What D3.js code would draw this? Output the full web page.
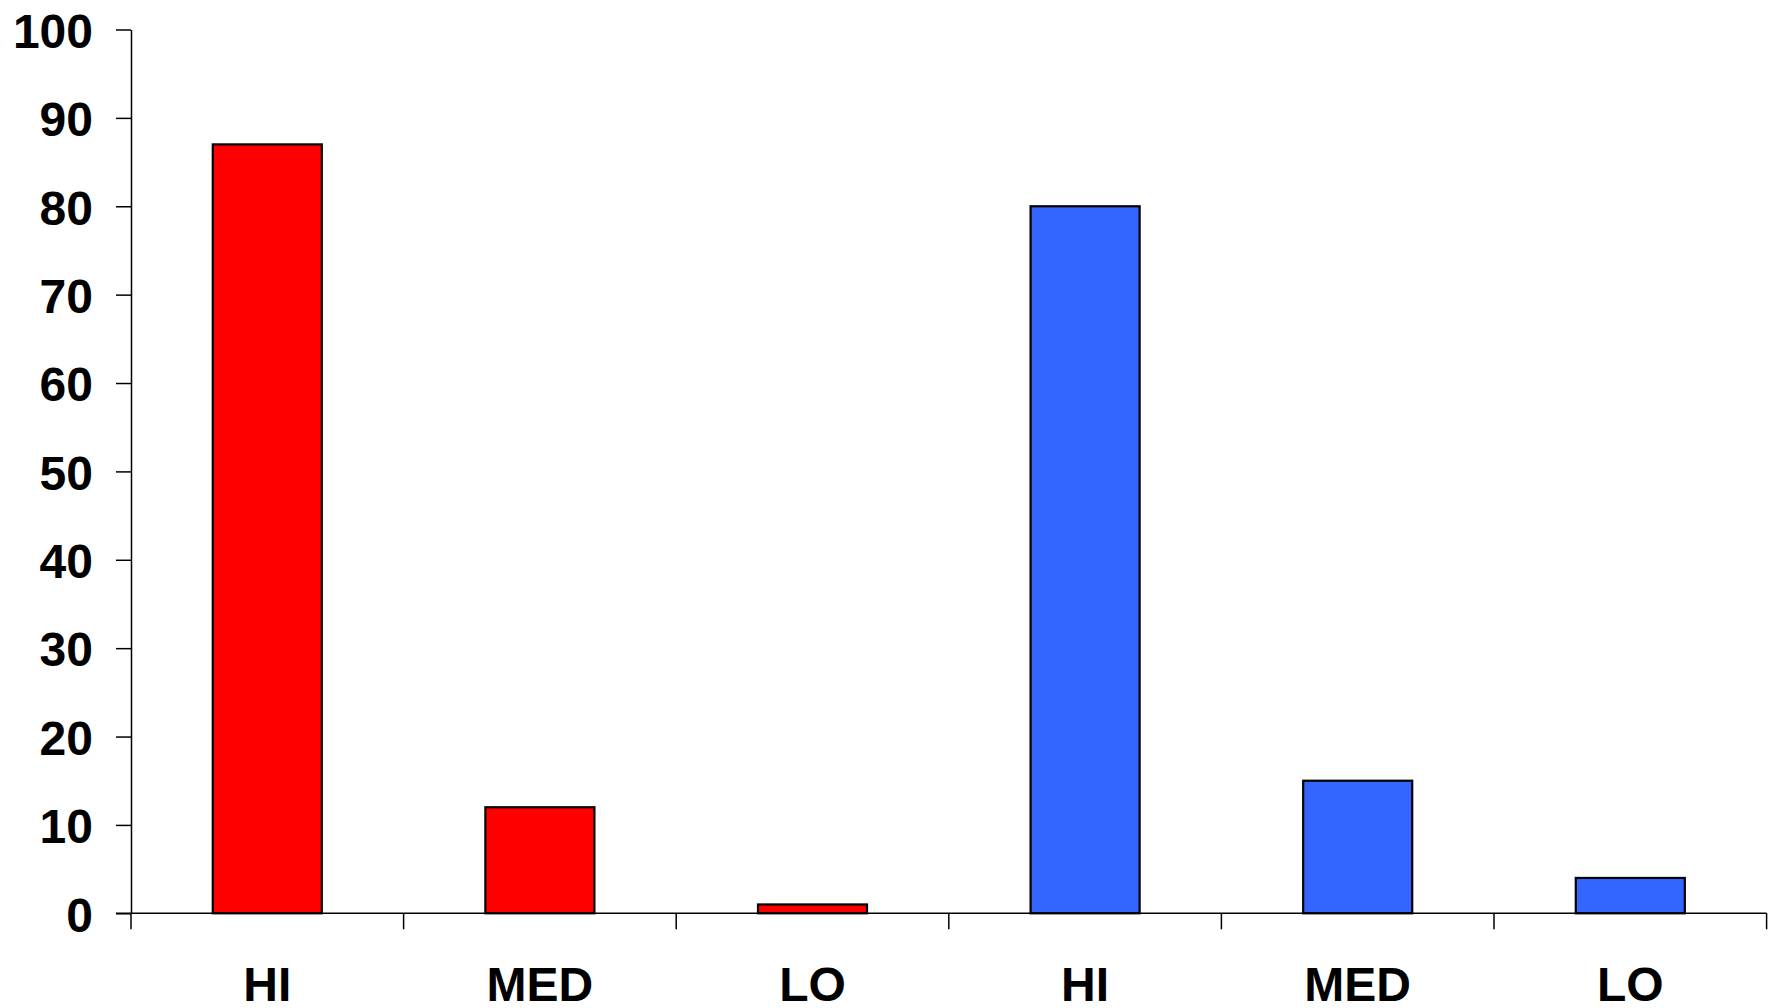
<!DOCTYPE html>
<html>
<head>
<meta charset="utf-8">
<script src="https://cdn.jsdelivr.net/npm/d3@7"></script>
<style>
  html, body { margin: 0; padding: 0; background: #fff; }
  svg { display: block; }
  text { font-family: "Liberation Sans", Arial, sans-serif; font-weight: bold; fill: #000; }
</style>
</head>
<body>
<script>
// Categories along the x axis, two groups of three
const categories = ["HI", "MED", "LO", "HI", "MED", "LO"];
// Bar values, one per category
const values = [87, 12, 1, 80, 15, 4];
// Fill for each bar: first group red, second group blue
const barColors = ["#FF0000", "#FF0000", "#FF0000", "#3366FF", "#3366FF", "#3366FF"];
// Y axis ticks
const yTicks = [0, 10, 20, 30, 40, 50, 60, 70, 80, 90, 100];

(function () {
  const W = 1773, H = 1008;
  const plotLeft = 131, plotRight = 1766.6, plotTop = 29.5, plotBottom = 913.3;
  const fontSize = 48;

  const svg = d3.select("body").append("svg")
    .attr("width", W).attr("height", H);

  const x = d3.scaleBand()
    .domain(d3.range(categories.length))
    .range([plotLeft, plotRight])
    .paddingInner(0.6)
    .paddingOuter(0.3);

  const y = d3.scaleLinear().domain([0, 100]).range([plotBottom, plotTop]);

  // Bars
  svg.append("g").selectAll("rect")
    .data(values)
    .join("rect")
    .attr("x", (d, i) => x(i))
    .attr("y", d => y(d))
    .attr("width", x.bandwidth())
    .attr("height", d => y(0) - y(d))
    .attr("fill", (d, i) => barColors[i])
    .attr("stroke", "#000")
    .attr("stroke-width", 2.2);

  // Y axis
  const yAxis = svg.append("g")
    .attr("transform", `translate(${plotLeft},0)`)
    .call(d3.axisLeft(y).tickValues(yTicks).tickSize(15).tickPadding(23).tickSizeOuter(0));
  yAxis.select(".domain").attr("stroke", "#000").attr("stroke-width", 1.5);
  yAxis.selectAll(".tick line").attr("stroke", "#000").attr("stroke-width", 1.5);
  yAxis.selectAll(".tick text")
    .attr("font-size", fontSize)
    .attr("font-family", "Liberation Sans, Arial, sans-serif")
    .attr("font-weight", "bold")
    .attr("fill", "#000")
    .attr("dy", "0.37em");

  // X axis: baseline with ticks at the band boundaries
  const step = (plotRight - plotLeft) / categories.length;
  const xEdges = d3.range(categories.length + 1).map(i => plotLeft + i * step);
  const xAxisG = svg.append("g");
  xAxisG.append("line")
    .attr("x1", 116).attr("x2", plotRight)
    .attr("y1", y(0)).attr("y2", y(0))
    .attr("stroke", "#000").attr("stroke-width", 1.5);
  xAxisG.selectAll("line.tick")
    .data(xEdges)
    .join("line")
    .attr("class", "tick")
    .attr("x1", d => d).attr("x2", d => d)
    .attr("y1", y(0)).attr("y2", y(0) + 16)
    .attr("stroke", "#000").attr("stroke-width", 1.5);

  // Category labels
  svg.append("g").selectAll("text")
    .data(categories)
    .join("text")
    .attr("x", (d, i) => x(i) + x.bandwidth() / 2)
    .attr("y", 1001)
    .attr("text-anchor", "middle")
    .attr("font-size", fontSize)
    .text(d => d);
})();
</script>
</body>
</html>
